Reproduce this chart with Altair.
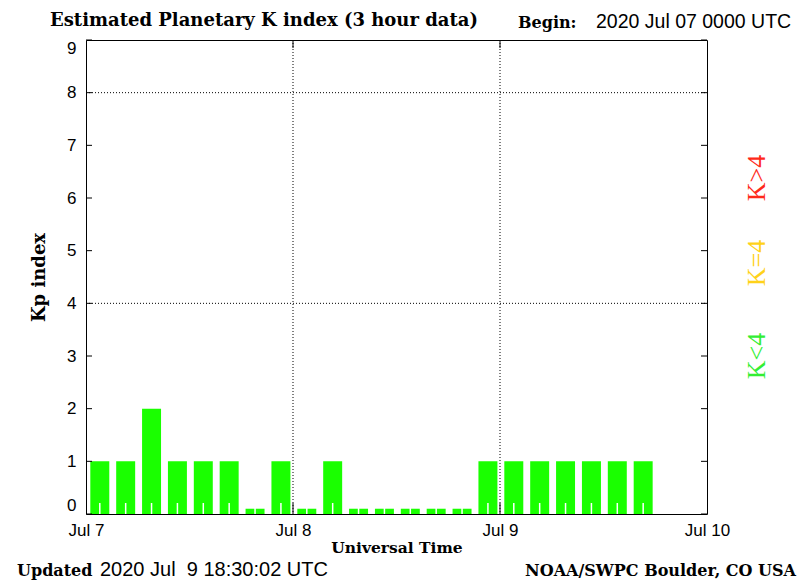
import altair as alt
import pandas as pd

# Kp values, one per 3-hour slot starting Jul 7 00 UTC
slot_hours = list(range(0, 66, 3))
kp_values = [1, 1, 2, 1, 1, 1, 0, 1,
             0, 1, 0, 0, 0, 0, 0, 1,
             1, 1, 1, 1, 1, 1]

day_hours = [0, 24, 48, 72]
day_labels = ['Jul 7', 'Jul 8', 'Jul 9', 'Jul 10']
kp_ticks = [0, 1, 2, 3, 4, 5, 6, 7, 8, 9]
grid_kp = [4, 8]
grid_hours = [24, 48]

W, H = 621, 474
BAR_GREEN = '#1aff00'
SANS = 'Liberation Sans'
SERIF = 'DejaVu Serif'

bars_df = pd.DataFrame({'h': slot_hours, 'kp': kp_values})
ticks_df = pd.DataFrame({'kp': kp_ticks})
gridy_df = pd.DataFrame({'kp': grid_kp})
gridx_df = pd.DataFrame({'h': grid_hours})

x_scale = alt.Scale(domain=[0, 72], nice=False, zero=False)
y_scale = alt.Scale(domain=[0, 9], nice=False)

label_expr = "[" + ",".join("'%s'" % s for s in day_labels) + "][round(datum.value / 24)]"

x_axis = alt.Axis(values=day_hours, labelExpr=label_expr, labelFont=SANS, labelFontSize=17,
                  labelColor='black', labelPadding=8, labelFlush=False, domain=False, ticks=False,
                  tickSize=0, grid=False, title='Universal Time', titleFont=SERIF,
                  titleFontWeight='bold', titleFontSize=15.5, titleColor='black', titlePadding=2)
y_axis = alt.Axis(values=kp_ticks, labelFont=SANS, labelFontSize=17, labelColor='black',
                  labelPadding=10, labelFlush=True, domain=False, ticks=False, tickSize=0,
                  grid=False, title='Kp index', titleFont=SERIF, titleFontWeight='bold',
                  titleFontSize=18, titleColor='black', titlePadding=18)


def X(field):
    return alt.X(field + ':Q', scale=x_scale, axis=x_axis)


def Y(field):
    return alt.Y(field + ':Q', scale=y_scale, axis=y_axis)


# dotted grid
grid_y = alt.Chart(gridy_df).mark_rule(color='black', strokeDash=[1, 2], strokeWidth=1).encode(
    y=Y('kp'), x=alt.value(0), x2=alt.value(W))
grid_x = alt.Chart(gridx_df).mark_rule(color='black', strokeDash=[1, 2], strokeWidth=1).encode(
    x=X('h'), y=alt.value(0), y2=alt.value(H))

# bars (zero values shown as a thin sliver)
bars = alt.Chart(bars_df).transform_calculate(
    x0='datum.h + 0.5', x1='datum.h + 2.7', hk='max(datum.kp, 0.1)', base='0'
).mark_bar(color=BAR_GREEN, stroke=None).encode(
    x=X('x0'), x2='x1:Q', y=Y('hk'), y2='base:Q')

# white minor ticks at bar centres
minor = alt.Chart(bars_df).transform_calculate(c='datum.h + 1.6').mark_rule(
    color='white', strokeWidth=1.5).encode(x=X('c'), y=alt.value(H), y2=alt.value(H - 11))

# inward axis ticks
left_ticks = alt.Chart(ticks_df).mark_rule(color='black').encode(
    y=Y('kp'), x=alt.value(0), x2=alt.value(6))
right_ticks = alt.Chart(ticks_df).mark_rule(color='black').encode(
    y=Y('kp'), x=alt.value(W - 6), x2=alt.value(W))
top_ticks = alt.Chart(gridx_df).mark_rule(color='black').encode(
    x=X('h'), y=alt.value(0), y2=alt.value(8))
bottom_ticks = alt.Chart(gridx_df).mark_rule(color='black').encode(
    x=X('h'), y=alt.value(H), y2=alt.value(H - 11))


def label(text, x, y, font=SERIF, size=16, weight='normal', color='black', align='left', angle=0,
          baseline='alphabetic'):
    return alt.Chart(pd.DataFrame({'t': [text]})).mark_text(
        font=font, fontSize=size, fontWeight=weight, color=color, align=align,
        angle=angle, baseline=baseline).encode(x=alt.value(x), y=alt.value(y), text='t:N')


texts = [
    label('Estimated Planetary K index (3 hour data)', -36, -14, size=18, weight='bold'),
    label('Begin:', 432, -12, size=16, weight='bold'),
    label('2020 Jul 07 0000 UTC', 510, -12, font=SANS, size=19.5),
    label('Updated', -69, 536, size=16, weight='bold'),
    label('2020 Jul\u00a0 9 18:30:02 UTC', 14, 536, font=SANS, size=20),
    label('NOAA/SWPC Boulder, CO USA', 710, 536, size=16, weight='bold', align='right'),
    label('K>4', 671, 138, font='Liberation Serif', size=26, color='#ff2a1a', align='center',
          angle=270, baseline='middle'),
    label('K=4', 671, 223, font='Liberation Serif', size=26, color='#ffd21a', align='center',
          angle=270, baseline='middle'),
    label('K<4', 671, 316, font='Liberation Serif', size=26, color='#33ee33', align='center',
          angle=270, baseline='middle'),
]

chart = alt.layer(grid_y, grid_x, bars, minor, left_ticks, right_ticks, top_ticks, bottom_ticks,
                  *texts).properties(
    width=W, height=H,
    autosize=alt.AutoSizeParams(type='none'),
    padding={'left': 78, 'top': 32, 'right': 90, 'bottom': 70},
    background='white'
).configure_view(stroke='black', strokeWidth=1)

chart.save('out.html', embed_options={'renderer': 'svg', 'actions': False})
